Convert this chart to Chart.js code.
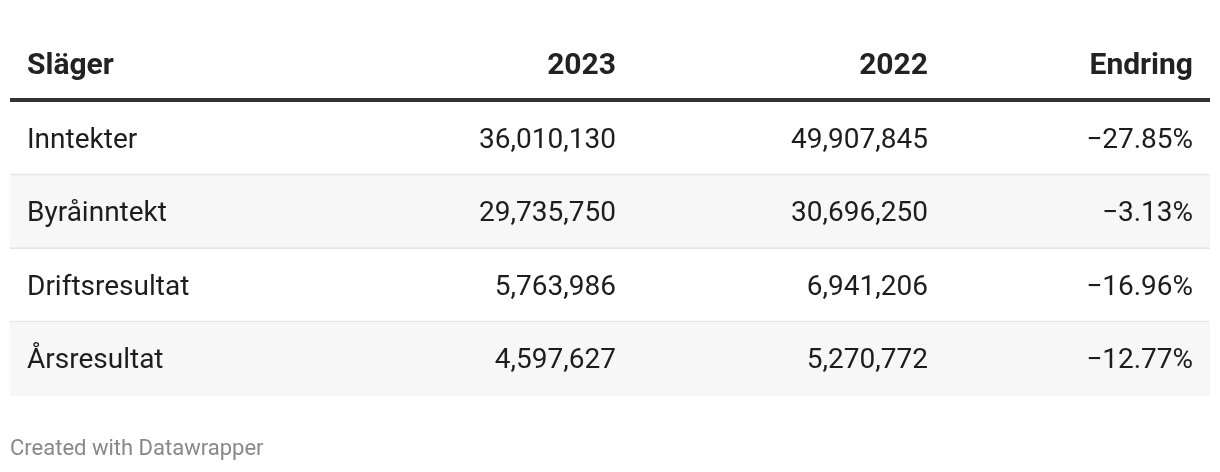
<!DOCTYPE html>
<html>
<head>
<meta charset="utf-8">
<script src="https://cdn.jsdelivr.net/npm/chart.js@4"></script>
<style>
  html, body { margin: 0; padding: 0; background: #fff; }
  canvas { display: block; }
</style>
</head>
<body>
<canvas id="table" width="1220" height="472"></canvas>
<script>
// table content
const headers = ['Släger', '2023', '2022', 'Endring'];
const rows = ['Inntekter', 'Byråinntekt', 'Driftsresultat', 'Årsresultat'];
const values2023 = [36010130, 29735750, 5763986, 4597627];
const values2022 = [49907845, 30696250, 6941206, 5270772];
const change = [-27.85, -3.13, -16.96, -12.77];

// column anchors in x-scale units (0..1200 across the table)
const colX = [17, 606, 918, 1183];
const colAlign = ['left', 'right', 'right', 'right'];

const fmtNum = v => v.toLocaleString('en-US');
const fmtPct = v => (v < 0 ? '\u2212' : '') + Math.abs(v).toFixed(2) + '%';

const tableText = {
  id: 'tableText',
  afterDatasetsDraw(chart) {
    const { ctx, chartArea, scales: { x, y } } = chart;
    ctx.save();
    // header
    ctx.fillStyle = '#222';
    ctx.font = 'bold 30px Roboto';
    ctx.textBaseline = 'middle';
    headers.forEach((h, i) => {
      ctx.textAlign = colAlign[i];
      ctx.fillText(h, x.getPixelForValue(colX[i]), chartArea.top - 36);
    });
    // thick rule under header
    ctx.fillStyle = '#333';
    ctx.fillRect(chartArea.left, chartArea.top - 4, chartArea.right - chartArea.left, 4);

    // cells
    ctx.fillStyle = '#1d1d1d';
    ctx.font = '28px Roboto';
    rows.forEach((r, i) => {
      const cy = y.getPixelForValue(i) + 2;
      const cells = [r, fmtNum(values2023[i]), fmtNum(values2022[i]), fmtPct(change[i])];
      cells.forEach((c, j) => {
        ctx.textAlign = colAlign[j];
        ctx.fillText(c, x.getPixelForValue(colX[j]), cy);
      });
    });

    // footer
    ctx.fillStyle = '#888';
    ctx.font = '22px Roboto';
    ctx.textAlign = 'left';
    ctx.fillText('Created with Datawrapper', chartArea.left, 449);
    ctx.restore();
  }
};

new Chart(document.getElementById('table'), {
  type: 'bar',
  data: {
    labels: rows,
    datasets: [{
      data: rows.map(() => [0, 1200]),
      backgroundColor: rows.map((r, i) => i % 2 ? '#f7f7f7' : '#ffffff'),
      borderColor: '#e6e6e6',
      borderWidth: rows.map((r, i) => i < rows.length - 1 ? { top: 0, left: 0, right: 0, bottom: 2 } : 0),
      borderSkipped: false,
      barPercentage: 1,
      categoryPercentage: 1
    }]
  },
  options: {
    indexAxis: 'y',
    responsive: false,
    animation: false,
    layout: { padding: { left: 10, right: 10, top: 102, bottom: 76 } },
    scales: {
      x: { display: false, min: 0, max: 1200 },
      y: { display: false }
    },
    plugins: {
      legend: { display: false },
      tooltip: { enabled: false }
    }
  },
  plugins: [tableText]
});
</script>
</body>
</html>
